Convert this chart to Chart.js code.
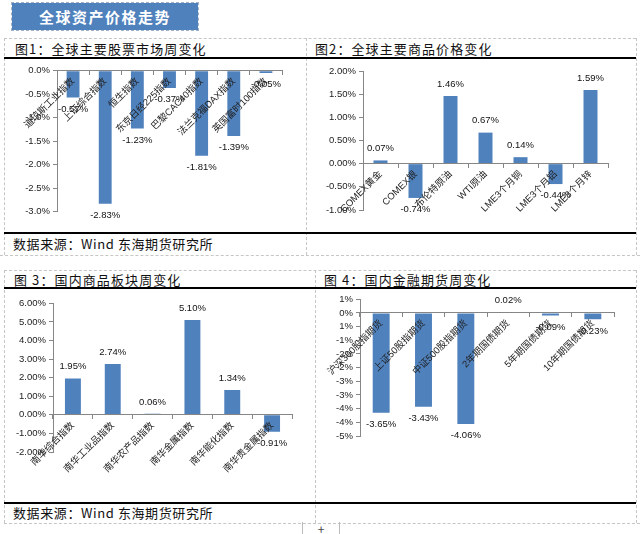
<!DOCTYPE html>
<html>
<head>
<meta charset="utf-8">
<script src="https://cdn.jsdelivr.net/npm/chart.js@4.4.1/dist/chart.umd.min.js"></script>
<style>
    body {
        margin: 0;
        width: 640px;
        height: 534px;
        background: #fff;
        position: relative;
        overflow: hidden;
        font-family: "Noto Sans CJK SC", sans-serif;
    }
    .dh { position: absolute; height: 0; border-top: 1px dashed #c6c6c6; }
    .dv { position: absolute; width: 0; border-left: 1px dashed #c6c6c6; }
    .bh { position: absolute; height: 0; border-top: 2px solid #000; }
    .head, .src {
        position: absolute;
        font-size: 13px;
        line-height: 17px;
        letter-spacing: 1.1px;
        color: #111;
        white-space: nowrap;
    }
    .src { letter-spacing: 0.6px; }
    #title {
        position: absolute;
        left: 12px; top: 3px; width: 186px; height: 27px;
        background: #4f81bd;
        outline: 1px dashed #9fb0c8;
        color: #fff;
        font-weight: bold;
        font-size: 15px;
        line-height: 27px;
        letter-spacing: 1.5px;
        text-align: center;
    }
    canvas { position: absolute; }
    #tab {
        position: absolute; left: 302px; top: 522px; width: 36px; height: 14px;
        border-left: 1px solid #bbb; border-right: 1px solid #bbb;
        font-size: 12px; line-height: 14px; text-align: center; color: #444;
    }
</style>
</head>
<body>

<div id="title">全球资产价格走势</div>

<!-- spreadsheet cell borders -->
<div class="dh" style="left:4px; top:38px; width:632px"></div>
<div class="dh" style="left:0; top:255px; width:640px"></div>
<div class="dh" style="left:4px; top:270px; width:632px"></div>
<div class="dh" style="left:4px; top:523px; width:636px"></div>
<div class="dv" style="left:4px; top:38px; height:217px"></div>
<div class="dv" style="left:306px; top:38px; height:217px"></div>
<div class="dv" style="left:636px; top:38px; height:217px"></div>
<div class="dv" style="left:4px; top:270px; height:253px"></div>
<div class="dv" style="left:315px; top:270px; height:253px"></div>
<div class="dv" style="left:636px; top:270px; height:253px"></div>

<div class="bh" style="left:4px; top:57px; width:632px"></div>
<div class="bh" style="left:4px; top:232px; width:632px"></div>
<div class="bh" style="left:4px; top:287px; width:632px"></div>
<div class="bh" style="left:4px; top:502px; width:632px"></div>

<div class="head" style="left:15px; top:40px">图1：全球主要股票市场周变化</div>
<div class="head" style="left:315px; top:40px">图2：全球主要商品价格变化</div>
<div class="head" style="left:14px; top:271px">图 3：国内商品板块周变化</div>
<div class="head" style="left:324px; top:271px">图 4：国内金融期货周变化</div>

<div class="src" style="left:13px; top:235px">数据来源：Wind 东海期货研究所</div>
<div class="src" style="left:13px; top:504px">数据来源：Wind 东海期货研究所</div>

<div id="tab">+</div>

<canvas id="fig1" width="300" height="172" style="left:4px; top:60px"></canvas>
<canvas id="fig2" width="324" height="172" style="left:310px; top:60px"></canvas>
<canvas id="fig3" width="300" height="210" style="left:4px; top:290px"></canvas>
<canvas id="fig4" width="324" height="210" style="left:310px; top:290px"></canvas>

<script>
// fig 1 - global stock indices, weekly change (%)
const stockNames = ['道琼斯工业指数', '上证综合指数', '恒生指数', '东京日经225指数', '巴黎CAC40指数', '法兰克福DAX指数', '英国富时100指数'];
const stockChange = [-0.57, -2.83, -1.23, -0.37, -1.81, -1.39, -0.05];
const stockTicks = ['0.0%', '-0.5%', '-1.0%', '-1.5%', '-2.0%', '-2.5%', '-3.0%'];

// fig 2 - global commodities
const commodityNames = ['COMEX黄金', 'COMEX银', '布伦特原油', 'WTI原油', 'LME3个月铜', 'LME3个月铝', 'LME3个月锌'];
const commodityChange = [0.07, -0.74, 1.46, 0.67, 0.14, -0.44, 1.59];
const commodityTicks = ['2.00%', '1.50%', '1.00%', '0.50%', '0.00%', '-0.50%', '-1.00%'];

// fig 3 - domestic commodity sectors (Nanhua)
const sectorNames = ['南华综合指数', '南华工业品指数', '南华农产品指数', '南华金属指数', '南华能化指数', '南华贵金属指数'];
const sectorChange = [1.95, 2.74, 0.06, 5.10, 1.34, -0.91];
const sectorTicks = ['6.00%', '5.00%', '4.00%', '3.00%', '2.00%', '1.00%', '0.00%', '-1.00%', '-2.00%'];

// fig 4 - domestic financial futures
const futuresNames = ['沪深300股指期货', '上证50股指期货', '中证500股指期货', '2年期国债期货', '5年期国债期货', '10年期国债期货'];
const futuresChange = [-3.65, -3.43, -4.06, 0.02, -0.09, -0.23];
const futuresTicks = ['1%', '0%', '1%', '-1%', '-2%', '-2%', '-3%', '-3%', '-4%', '-4%', '-5%'];

const barColor = '#4f81bd';
const axisColor = '#868686';
const numFont = '"Liberation Sans", "Noto Sans CJK SC", sans-serif';

// excel style "outside end" labels
const valueLabels = {
    id: 'valueLabels',
    afterDraw(chart) {
        const ctx = chart.ctx;
        const data = chart.data.datasets[0].data;
        ctx.save();
        ctx.font = '9.5px ' + numFont;
        ctx.fillStyle = '#111';
        ctx.textAlign = 'center';
        chart.getDatasetMeta(0).data.forEach((bar, i) => {
            const v = data[i];
            const text = v.toFixed(2) + '%';
            if (v >= 0) {
                ctx.textBaseline = 'bottom';
                ctx.fillText(text, bar.x, bar.y - 7);
            } else {
                ctx.textBaseline = 'top';
                ctx.fillText(text, bar.x, bar.y + 7);
            }
        });
        ctx.restore();
    }
};

function drawBars(id, names, values, tickLabels, yMin, yMax, step, yWidth, pad) {
    return new Chart(document.getElementById(id), {
        type: 'bar',
        data: {
            labels: names,
            datasets: [{
                data: values,
                backgroundColor: barColor,
                borderWidth: 0,
                barPercentage: 0.4,
                categoryPercentage: 1
            }]
        },
        options: {
            responsive: false,
            animation: false,
            layout: {padding: pad},
            plugins: {legend: {display: false}, tooltip: {enabled: false}},
            scales: {
                x: {
                    position: {y: 0},
                    grid: {offset: true, drawOnChartArea: false, tickLength: 4, color: axisColor, z: 1},
                    border: {color: axisColor, z: 1},
                    ticks: {
                        autoSkip: false, minRotation: 45, maxRotation: 45, padding: 1, z: 1,
                        color: '#222',
                        font: {family: numFont, size: 9.5}
                    },
                    afterFit: s => { s.height = 1; }
                },
                y: {
                    min: yMin,
                    max: yMax,
                    grid: {drawOnChartArea: false, tickLength: 4, color: axisColor},
                    border: {color: axisColor},
                    ticks: {
                        stepSize: step,
                        autoSkip: false,
                        padding: 3,
                        color: '#222',
                        font: {family: numFont, size: 9.5},
                        callback: (v, i, t) => tickLabels[t.length - 1 - i]
                    },
                    afterFit: s => { s.width = yWidth; }
                }
            }
        },
        plugins: [valueLabels]
    });
}

drawBars('fig1', stockNames, stockChange, stockTicks, -3, 0, 0.5, 53, {left: 0, right: 22, top: 10.7, bottom: 20.3});
drawBars('fig2', commodityNames, commodityChange, commodityTicks, -1, 2, 0.5, 53, {left: 0, right: 26, top: 11, bottom: 22});
drawBars('fig3', sectorNames, sectorChange, sectorTicks, -2, 6, 1, 49, {left: 0, right: 12, top: 13.3, bottom: 48});
drawBars('fig4', futuresNames, futuresChange, futuresTicks, -4.5, 0.5, 0.5, 50, {left: 0, right: 20, top: 9.3, bottom: 64});
</script>
</body>
</html>
